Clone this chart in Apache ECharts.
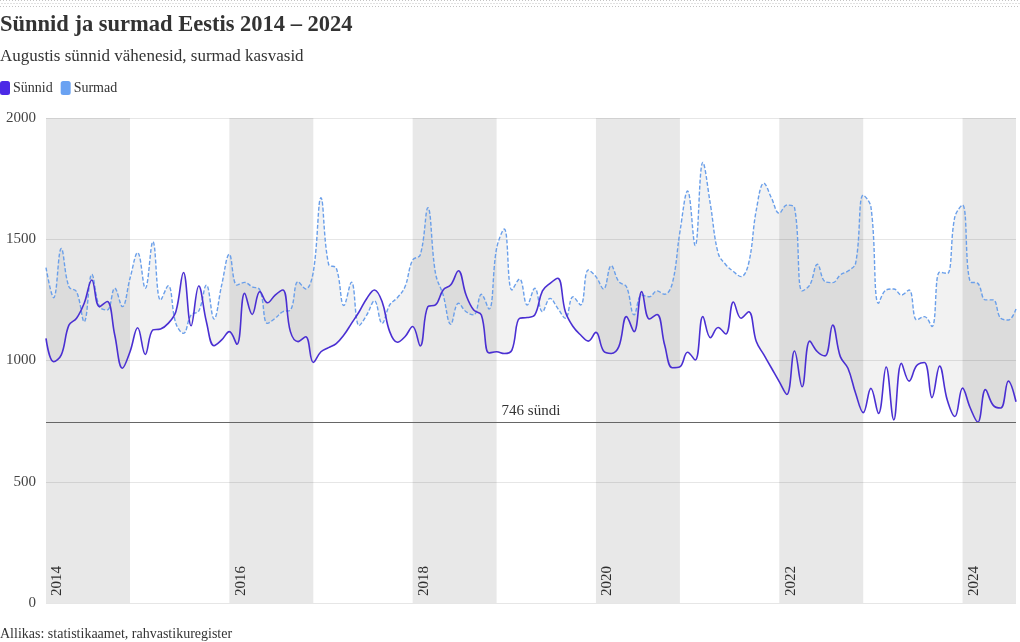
<!DOCTYPE html>
<html>
<head>
<meta charset="utf-8">
<script src="https://cdn.jsdelivr.net/npm/echarts@6/dist/echarts.min.js"></script>
<style>
  html, body { margin: 0; padding: 0; background: #ffffff; }
  #chart { width: 1020px; height: 642px; }
</style>
</head>
<body>
<div id="chart"></div>
<script>
// ---- data ----
const years = [2014, 2015, 2016, 2017, 2018, 2019, 2020, 2021, 2022, 2023, 2024];
const lastYearMonths = 8; // data runs to August 2024
const bandYears = [2014, 2016, 2018, 2020, 2022, 2024];
const tickYears = [2014, 2016, 2018, 2020, 2022, 2024];

const births = [
  1091, 995, 1023, 1146, 1174, 1236, 1332, 1222, 1243, 1105, 968, 1036,
  1135, 1025, 1126, 1130, 1153, 1201, 1363, 1143, 1307, 1160, 1061, 1085,
  1119, 1067, 1277, 1190, 1284, 1238, 1270, 1291, 1119, 1078, 1098, 992,
  1036, 1053, 1070, 1105, 1153, 1201, 1256, 1291, 1243, 1119, 1075, 1098,
  1140, 1060, 1222, 1229, 1291, 1312, 1370, 1270, 1208, 1188, 1031, 1036,
  1029, 1043, 1174, 1177, 1188, 1287, 1318, 1339, 1201, 1140, 1105, 1080,
  1116, 1039, 1029, 1057, 1181, 1119, 1284, 1171, 1190, 1064, 970, 974,
  1034, 1002, 1181, 1094, 1136, 1109, 1241, 1174, 1201, 1078, 1023, 968,
  913, 860, 1039, 892, 1080, 1036, 1019, 1146, 1016, 968, 865, 785,
  885, 782, 973, 755, 988, 915, 979, 992, 847, 977, 837, 769,
  886, 805, 746, 880, 816, 804, 915, 830
];

const deaths = [
  1383, 1259, 1462, 1304, 1284, 1160, 1355, 1222, 1208, 1298, 1222, 1339,
  1445, 1298, 1490, 1249, 1308, 1153, 1112, 1188, 1204, 1311, 1171, 1311,
  1438, 1311, 1322, 1304, 1291, 1153, 1174, 1201, 1208, 1325, 1295, 1366,
  1671, 1397, 1381, 1227, 1323, 1144, 1188, 1246, 1153, 1229, 1259, 1304,
  1414, 1435, 1630, 1359, 1270, 1149, 1236, 1201, 1188, 1273, 1212, 1463,
  1542, 1291, 1336, 1229, 1298, 1201, 1256, 1215, 1174, 1263, 1229, 1373,
  1346, 1295, 1391, 1325, 1304, 1188, 1270, 1263, 1287, 1273, 1318, 1531,
  1699, 1474, 1817, 1641, 1443, 1395, 1367, 1346, 1401, 1621, 1731, 1669,
  1607, 1641, 1630, 1287, 1311, 1397, 1325, 1321, 1353, 1369, 1401, 1682,
  1634, 1236, 1291, 1295, 1270, 1291, 1167, 1181, 1140, 1364, 1359, 1593,
  1641, 1325, 1318, 1250, 1250, 1174, 1167, 1212
];

const minBirths = 746;
const yTicks = [0, 500, 1000, 1500, 2000];

// ---- derived tables ----
const categories = [];
years.forEach(function (y, yi) {
  const n = (yi === years.length - 1) ? lastYearMonths : 12;
  for (let m = 1; m <= n; m++) categories.push(y + '-' + (m < 10 ? '0' + m : m));
});
const lastCat = categories[categories.length - 1];
const gap = deaths.map(function (d, i) { return d - births[i]; });
const bands = bandYears.map(function (y) {
  const end = y + '-12';
  return [{ xAxis: y + '-01' }, { xAxis: categories.indexOf(end) >= 0 ? end : lastCat }];
});

const SERIF = '"Liberation Serif", "DejaVu Serif", serif';
const SMOOTH = 0.4;
const cBirths = '#4a2fd2';
const cDeaths = '#6a9fea';

const dots = [];
[0.5, 3.5, 6.5].forEach(function (yy, k) {
  dots.push({
    type: 'line', silent: true,
    shape: { x1: (k % 2) * 1.5, y1: yy, x2: 1020, y2: yy },
    style: { stroke: '#c4c4c4', lineWidth: 1, lineDash: [1, 2] }
  });
});

const chart = echarts.init(document.getElementById('chart'), null, { renderer: 'canvas' });

const option = {
  backgroundColor: '#ffffff',
  animation: false,
  title: [
    {
      text: 'Sünnid ja surmad Eestis 2014 – 2024',
      left: 0, top: 14, padding: 0,
      textStyle: { fontFamily: SERIF, fontSize: 22.5, fontWeight: 'bold', color: '#333333' }
    },
    {
      text: 'Augustis sünnid vähenesid, surmad kasvasid',
      left: 0, top: 48, padding: 0,
      textStyle: { fontFamily: SERIF, fontSize: 17, fontWeight: 'normal', color: '#333333' }
    },
    {
      text: 'Allikas: statistikaamet, rahvastikuregister',
      left: 0, top: 627, padding: 0,
      textStyle: { fontFamily: SERIF, fontSize: 14, fontWeight: 'normal', color: '#333333' }
    }
  ],
  graphic: dots,
  legend: {
    left: 0, top: 81, padding: 0,
    itemWidth: 10, itemHeight: 14, itemGap: 8,
    icon: 'roundRect',
    data: [
      { name: 'Sünnid', itemStyle: { color: '#4c2ae6' } },
      { name: 'Surmad', itemStyle: { color: '#6aa2f2' } }
    ],
    textStyle: { fontFamily: SERIF, fontSize: 14, color: '#333333', padding: [0, 0, 0, -2] }
  },
  grid: { left: 46, right: 4, top: 118, bottom: 39, containLabel: false },
  xAxis: {
    type: 'category',
    data: categories,
    boundaryGap: false,
    axisLine: { show: false },
    axisTick: { show: false },
    splitLine: { show: false },
    axisLabel: {
      inside: true,
      rotate: 90,
      margin: 7,
      align: 'left',
      verticalAlign: 'top',
      padding: [4, 0, 0, 0],
      fontFamily: SERIF,
      fontSize: 15,
      color: '#333333',
      interval: function (idx, val) {
        const y = parseInt(val.slice(0, 4), 10);
        return val.slice(5) === '01' && tickYears.indexOf(y) >= 0;
      },
      formatter: function (val) { return val.slice(0, 4); }
    }
  },
  yAxis: {
    type: 'value',
    min: yTicks[0], max: yTicks[yTicks.length - 1], interval: 500,
    axisLine: { show: false },
    axisTick: { show: false },
    splitLine: { show: true, lineStyle: { color: '#e6e6e6', width: 1 } },
    axisLabel: {
      margin: 10, fontFamily: SERIF, fontSize: 15, color: '#444444',
      padding: [3, 0, 0, 0],
      formatter: function (v) { return String(v); }
    }
  },
  series: [
    {
      name: 'base', type: 'line', data: births, stack: 'gap', stackStrategy: 'all',
      smooth: SMOOTH, symbol: 'none', silent: true, z: 1,
      lineStyle: { opacity: 0 },
      markArea: {
        silent: true,
        itemStyle: { color: 'rgba(0,0,0,0.09)' },
        data: bands
      }
    },
    {
      name: 'fill', type: 'line', data: gap, stack: 'gap', stackStrategy: 'all',
      smooth: SMOOTH, symbol: 'none', silent: true, z: 1,
      lineStyle: { opacity: 0 },
      areaStyle: { color: 'rgba(0,0,0,0.072)', origin: 'auto' }
    },
    {
      name: 'Surmad', type: 'line', data: deaths, smooth: SMOOTH, symbol: 'none', z: 3,
      itemStyle: { color: cDeaths },
      lineStyle: { color: cDeaths, width: 1.4, type: [4, 2] }
    },
    {
      name: 'Sünnid', type: 'line', data: births, smooth: SMOOTH, symbol: 'none', z: 4,
      itemStyle: { color: cBirths },
      lineStyle: { color: cBirths, width: 1.6 },
      markLine: {
        silent: true, symbol: 'none',
        lineStyle: { color: '#666666', width: 1, type: 'solid' },
        label: {
          show: true, position: 'middle', formatter: minBirths + ' sündi',
          fontFamily: SERIF, fontSize: 15, color: '#333333', distance: 4
        },
        data: [{ yAxis: minBirths }]
      }
    }
  ]
};

chart.setOption(option);
</script>
</body>
</html>
